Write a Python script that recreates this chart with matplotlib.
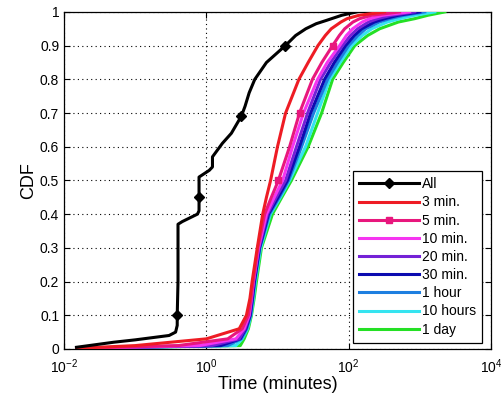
import matplotlib
matplotlib.use("Agg")
import matplotlib.pyplot as plt
from matplotlib.ticker import FixedLocator

plt.rcParams['font.family'] = ['Liberation Sans', 'DejaVu Sans']

# ---- data ------------------------------------------------------------------
ALL_X = [0.015, 0.05, 0.1, 0.3, 0.37, 0.39, 0.39, 0.40, 0.40, 0.46, 0.75,
         0.79, 0.79, 0.79, 1.1, 1.22, 1.22, 1.68, 2.25, 2.9, 3.1, 3.5, 4.0,
         4.8, 7.0, 12.9, 18.0, 25, 35, 49, 80, 130]
ALL_Y = [0.005, 0.02, 0.027, 0.04, 0.05, 0.07, 0.10, 0.20, 0.37, 0.378,
         0.40, 0.41, 0.45, 0.51, 0.53, 0.54, 0.57, 0.61, 0.64, 0.68, 0.69,
         0.72, 0.76, 0.80, 0.85, 0.90, 0.93, 0.95, 0.965, 0.975, 0.99, 1.0]
ALL_MARKS = [6, 12, 20, 25]

CDF = [0.002, 0.01, 0.03, 0.06, 0.1, 0.15, 0.2, 0.3, 0.4, 0.45, 0.5, 0.6,
       0.7, 0.8, 0.85, 0.9, 0.93, 0.95, 0.97, 0.98, 0.99, 1.0]

X_3MIN = [0.015, 0.1, 1.0, 2.9, 3.66, 4.1, 4.4, 5.2, 6.2, 7.0, 8.0, 10.0,
          13.0, 20.0, 27.0, 37.0, 47.0, 57.0, 78.0, 95.0, 140, 320]
X_5MIN = [0.015, 0.4, 2.0, 3.2, 3.9, 4.25, 4.55, 5.3, 6.6, 8.2, 10.3, 14.8,
          20.4, 31.0, 42.0, 59.5, 74.0, 88.0, 115, 143, 210, 520]
X_10MIN = [0.015, 0.8, 2.6, 3.4, 4.0, 4.3, 4.6, 5.4, 7.0, 9.0, 11.8, 16.3,
           23.2, 36.6, 50.0, 74.7, 93.0, 114, 155, 198, 300, 720]
X_20MIN = [0.015, 1.2, 2.9, 3.5, 4.05, 4.35, 4.6, 5.5, 7.23, 9.6, 13.0, 18.5,
           26.5, 40.3, 56.0, 82.0, 106, 134, 190, 256, 400, 850]
X_30MIN = [0.015, 1.6, 3.0, 3.6, 4.15, 4.45, 4.74, 5.6, 7.47, 10.2, 13.8,
           20.4, 29.2, 45.9, 63.0, 90.7, 120, 153, 230, 322, 500, 1000]
X_1H = [0.015, 2.0, 3.1, 3.7, 4.2, 4.5, 4.8, 5.65, 7.71, 10.6, 14.3, 21.8,
        32.2, 50.6, 70.0, 100, 135, 174, 270, 378, 600, 1175]
X_10H = [0.015, 2.6, 3.2, 3.8, 4.25, 4.6, 4.9, 5.8, 7.96, 11.0, 14.8, 24.8,
         36.6, 54.0, 76.0, 110, 155, 211, 350, 523, 850, 1626]
X_1DAY = [0.015, 3.0, 3.4, 3.9, 4.31, 4.7, 5.06, 5.95, 8.5, 11.5, 15.7, 27.0,
          41.7, 59.5, 84.0, 122, 185, 273, 500, 850, 1300, 2250]

LABELS = ["3 min.", "5 min.", "10 min.", "20 min.", "30 min.", "1 hour",
          "10 hours", "1 day"]
COLORS = ["#ee1c24", "#e8177d", "#f535f0", "#7422d6", "#0c0cb0", "#1e7fe0",
          "#35e4f0", "#25e025"]
SERIES = [X_3MIN, X_5MIN, X_10MIN, X_20MIN, X_30MIN, X_1H, X_10H, X_1DAY]

# ---- figure -----------------------------------------------------------------
fig = plt.figure(figsize=(5.02, 3.97), dpi=100)
ax = fig.add_axes([0.1275, 0.121, 0.978 - 0.1275, 0.970 - 0.121])

ax.plot(ALL_X, ALL_Y, color="black", lw=2.2, marker="D", ms=5,
        markevery=ALL_MARKS, label="All", zorder=5)

for i in range(len(SERIES) - 1, -1, -1):
    kw = {}
    if LABELS[i] == "5 min.":
        kw = dict(marker="s", ms=5, markevery=[10, 12, 15])
    ax.plot(SERIES[i], CDF, color=COLORS[i], lw=2.2, label=LABELS[i],
            zorder=3 + (len(SERIES) - i) * 0.01, **kw)

ax.set_xscale("log")
ax.set_xlim(1e-2, 1e4)
ax.set_ylim(0, 1)
ax.xaxis.set_major_locator(FixedLocator([1e-2, 1, 1e2, 1e4]))
ax.xaxis.set_minor_locator(FixedLocator([]))
ax.set_yticks([i / 10 for i in range(11)])
ax.set_yticklabels(["0", "0.1", "0.2", "0.3", "0.4", "0.5", "0.6", "0.7",
                    "0.8", "0.9", "1"])
ax.tick_params(direction="in", top=True, right=True, labelsize=10, length=4)
ax.tick_params(axis="x", pad=6)
ax.grid(True, which="major", color="black", linestyle=(0, (1, 3)), lw=0.8)
for s in ax.spines.values():
    s.set_linewidth(0.9)

ax.set_xlabel("Time (minutes)", fontsize=13, labelpad=0)
ax.set_ylabel("CDF", fontsize=13, labelpad=2)

# legend: "All" first, then the time windows in order
h, l = ax.get_legend_handles_labels()
order = [l.index("All")] + [l.index(x) for x in LABELS]
leg = ax.legend([h[k] for k in order], [l[k] for k in order],
                loc="lower right", bbox_to_anchor=(0.979, 0.018),
                borderaxespad=0, fontsize=10, handlelength=4.3,
                handletextpad=0.2, labelspacing=0.3, fancybox=False,
                framealpha=1, edgecolor="black", numpoints=1,
                borderpad=0.45)
leg.get_frame().set_linewidth(0.9)
leg.set_zorder(10)

fig.savefig("out.png", dpi=100)
